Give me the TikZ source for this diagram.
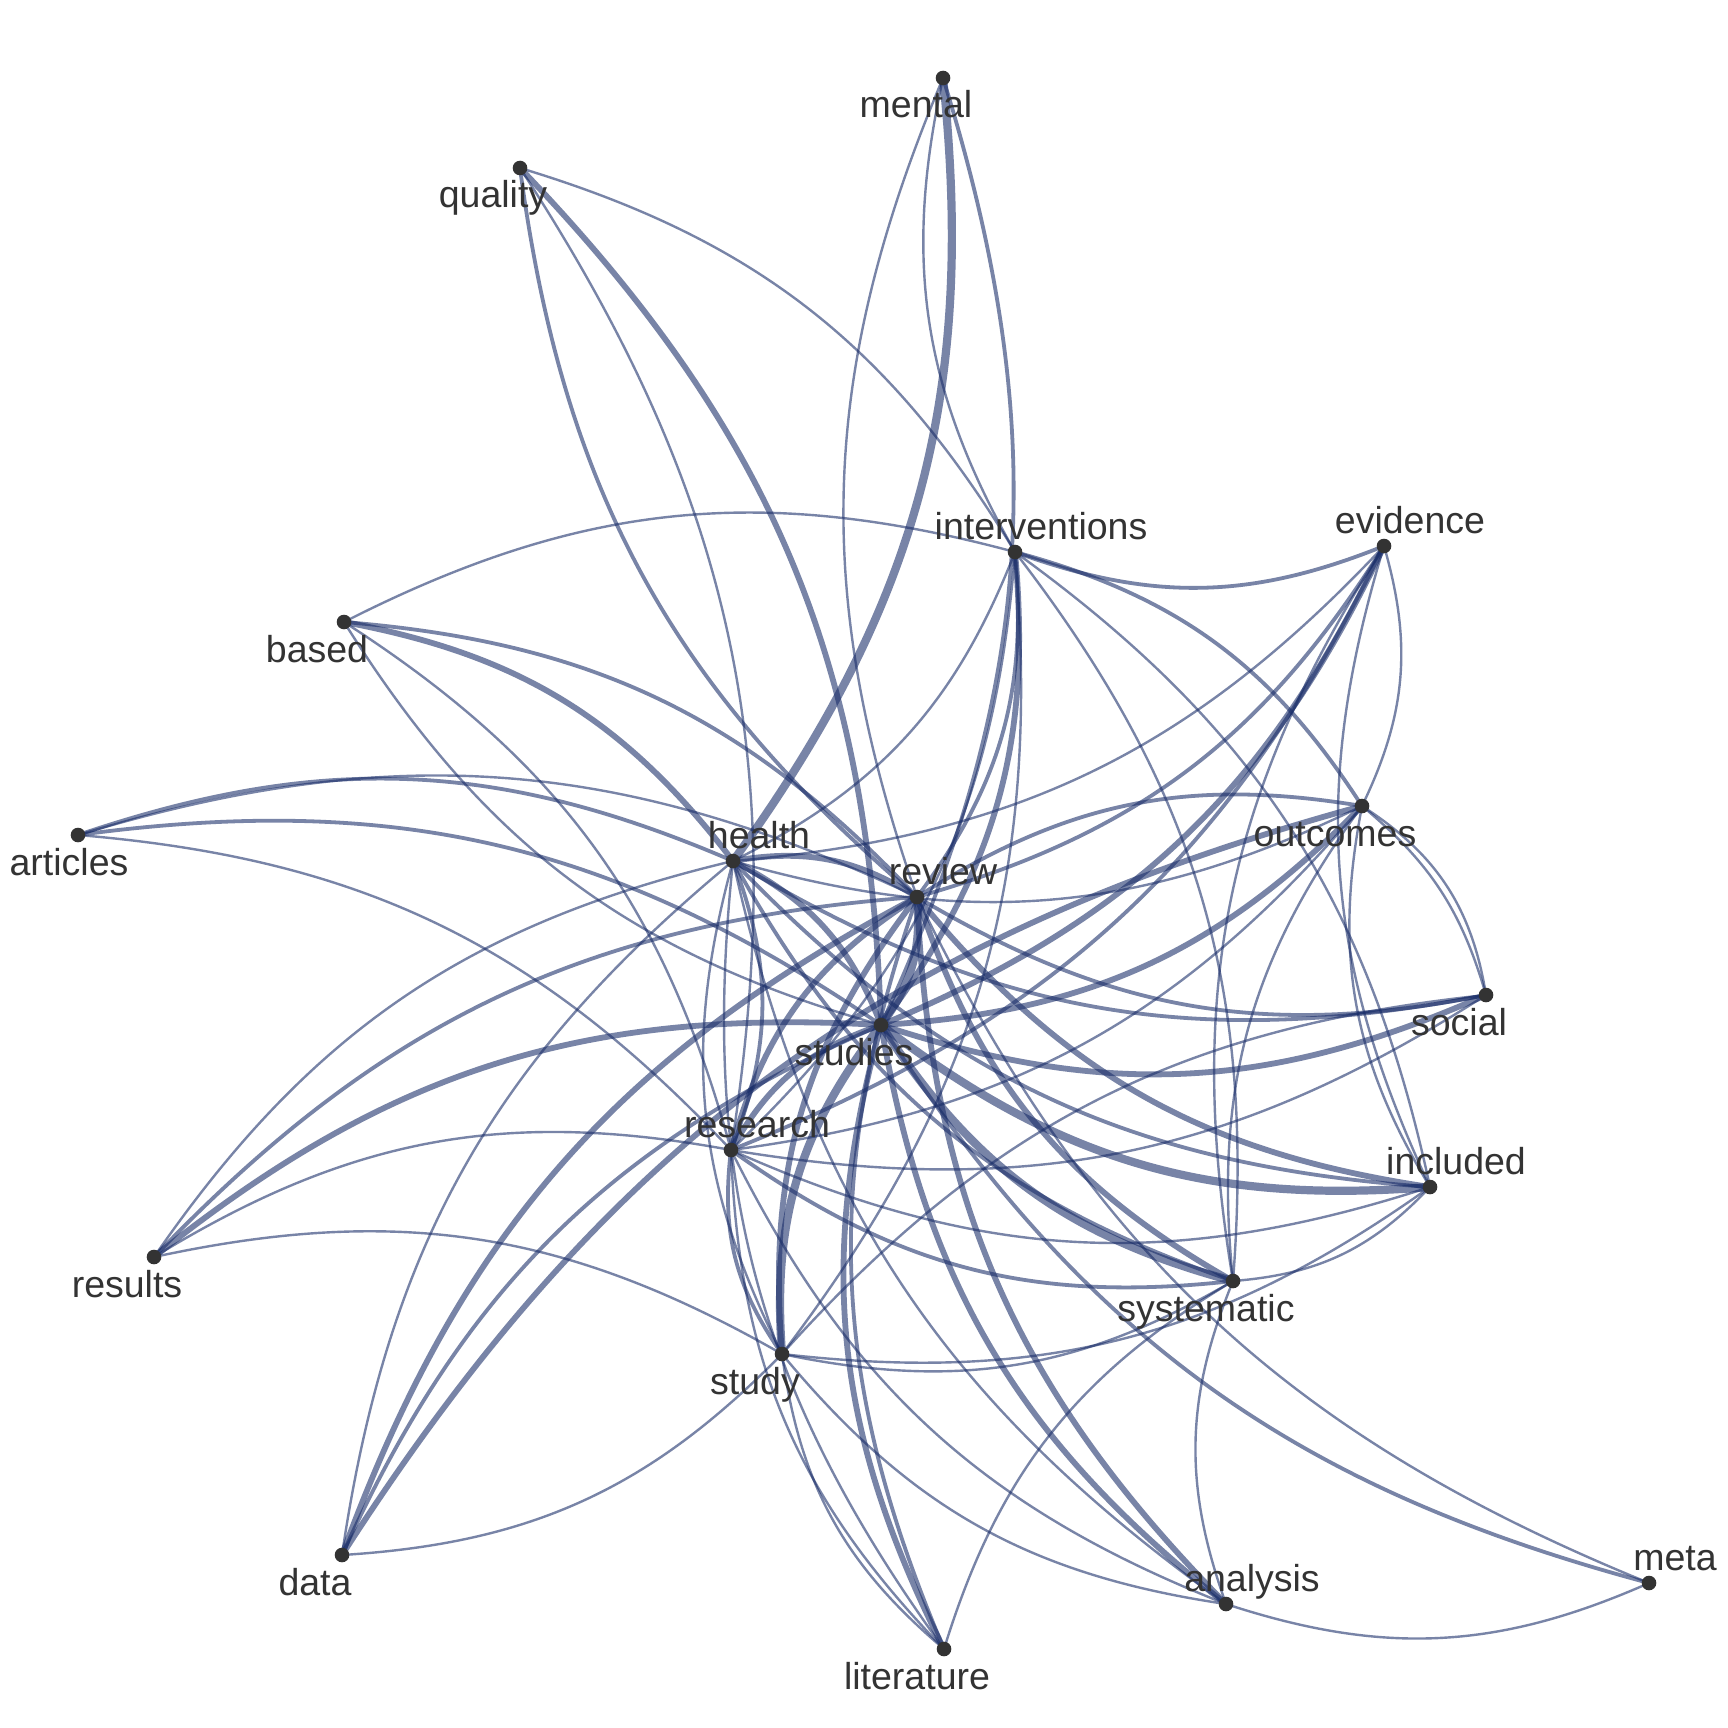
\documentclass[tikz,border=0pt]{standalone}
\usepackage{fontspec}
\setmainfont{Liberation Sans}
\definecolor{edgec}{RGB}{24,44,104}
\definecolor{dotc}{RGB}{51,51,51}
\newcommand\ed[3]{\draw[#3] (#1) to[bend left=21] (#2);}
\begin{document}
\begin{tikzpicture}[x=1pt,y=1pt,
  edgebase/.style={draw=edgec, draw opacity=0.58, line cap=round},
  ewa/.style={edgebase, line width=2.4pt},
  ewb/.style={edgebase, line width=3.8pt},
  ewc/.style={edgebase, line width=5.8pt},
  ewd/.style={edgebase, line width=8.2pt},
  dot/.style={circle, fill=dotc, inner sep=0pt, minimum size=14.6pt},
  lab/.style={text=dotc, font=\fontsize{37.5}{40}\selectfont, inner sep=0pt, anchor=base}]
\fill[white] (0,0) rectangle (1728,-1728);
\useasboundingbox (0,0) rectangle (1728,-1728);
% node positions
\coordinate (mental) at (943,-78);
\coordinate (quality) at (520,-168);
\coordinate (interventions) at (1015,-552);
\coordinate (evidence) at (1384,-546);
\coordinate (based) at (344,-622);
\coordinate (articles) at (78,-835);
\coordinate (health) at (733,-861);
\coordinate (review) at (917,-897);
\coordinate (outcomes) at (1362,-806);
\coordinate (social) at (1486,-995);
\coordinate (studies) at (881,-1025);
\coordinate (research) at (731,-1150);
\coordinate (included) at (1430,-1187);
\coordinate (systematic) at (1233,-1281);
\coordinate (analysis) at (1226,-1604);
\coordinate (meta) at (1649,-1583);
\coordinate (results) at (154,-1257);
\coordinate (data) at (342,-1555);
\coordinate (study) at (782,-1354);
\coordinate (literature) at (944,-1649);
% edges
\ed{mental}{health}{ewd}
\ed{interventions}{mental}{ewa}
\ed{review}{mental}{ewa}
\ed{mental}{studies}{ewb}
\ed{quality}{interventions}{ewa}
\ed{quality}{studies}{ewc}
\ed{quality}{research}{ewa}
\ed{review}{quality}{ewb}
\ed{based}{interventions}{ewa}
\ed{based}{review}{ewb}
\ed{based}{health}{ewc}
\ed{studies}{based}{ewa}
\ed{based}{research}{ewa}
\ed{articles}{health}{ewb}
\ed{articles}{review}{ewa}
\ed{articles}{studies}{ewb}
\ed{articles}{research}{ewa}
\ed{results}{health}{ewa}
\ed{results}{review}{ewb}
\ed{results}{studies}{ewc}
\ed{results}{research}{ewa}
\ed{results}{study}{ewa}
\ed{data}{health}{ewa}
\ed{data}{review}{ewc}
\ed{data}{outcomes}{ewc}
\ed{data}{studies}{ewb}
\ed{study}{data}{ewa}
\ed{literature}{studies}{ewc}
\ed{literature}{review}{ewb}
\ed{literature}{research}{ewa}
\ed{literature}{study}{ewa}
\ed{literature}{health}{ewa}
\ed{literature}{systematic}{ewa}
\ed{analysis}{studies}{ewc}
\ed{analysis}{review}{ewc}
\ed{analysis}{health}{ewa}
\ed{analysis}{research}{ewa}
\ed{analysis}{study}{ewa}
\ed{analysis}{systematic}{ewa}
\ed{meta}{analysis}{ewa}
\ed{meta}{studies}{ewb}
\ed{meta}{review}{ewa}
\ed{evidence}{interventions}{ewb}
\ed{evidence}{studies}{ewc}
\ed{evidence}{review}{ewb}
\ed{evidence}{research}{ewb}
\ed{evidence}{health}{ewa}
\ed{evidence}{outcomes}{ewa}
\ed{systematic}{evidence}{ewa}
\ed{included}{evidence}{ewa}
\ed{interventions}{studies}{ewc}
\ed{interventions}{review}{ewb}
\ed{interventions}{health}{ewa}
\ed{interventions}{research}{ewa}
\ed{interventions}{study}{ewa}
\ed{interventions}{outcomes}{ewb}
\ed{interventions}{systematic}{ewa}
\ed{interventions}{included}{ewa}
\ed{outcomes}{studies}{ewc}
\ed{review}{outcomes}{ewb}
\ed{outcomes}{health}{ewa}
\ed{outcomes}{research}{ewa}
\ed{systematic}{outcomes}{ewa}
\ed{included}{outcomes}{ewa}
\draw[ewa] (outcomes) to[bend left=17] (social);
\draw[ewa] (outcomes) to[bend left=24] (social);
\ed{social}{review}{ewb}
\ed{social}{health}{ewb}
\ed{social}{studies}{ewc}
\ed{social}{research}{ewa}
\ed{study}{social}{ewa}
\ed{included}{studies}{ewd}
\ed{included}{review}{ewc}
\ed{included}{health}{ewb}
\ed{included}{research}{ewa}
\ed{included}{study}{ewa}
\ed{included}{systematic}{ewa}
\ed{systematic}{studies}{ewd}
\ed{systematic}{review}{ewc}
\ed{systematic}{health}{ewb}
\ed{systematic}{research}{ewb}
\ed{systematic}{study}{ewa}
\ed{study}{studies}{ewd}
\ed{study}{review}{ewc}
\ed{study}{research}{ewb}
\ed{study}{health}{ewa}
\ed{research}{studies}{ewc}
\ed{research}{review}{ewc}
\ed{health}{research}{ewb}
\ed{health}{studies}{ewc}
\ed{health}{review}{ewc}
\ed{review}{studies}{ewd}
% dots
\foreach \n in {mental,quality,interventions,evidence,based,articles,health,review,outcomes,social,studies,research,included,systematic,analysis,meta,results,data,study,literature}
  \node[dot] (\n-dot) at (\n) {};
% labels
\node[lab] (mental-l) at (916,-118) {mental};
\node[lab] (quality-l) at (493,-208) {quality};
\node[lab] (interventions-l) at (1041,-539) {interventions};
\node[lab] (evidence-l) at (1410,-533) {evidence};
\node[lab] (based-l) at (317,-662) {based};
\node[lab] (articles-l) at (69,-875) {articles};
\node[lab] (health-l) at (759,-848) {health};
\node[lab] (review-l) at (943,-884) {review};
\node[lab] (outcomes-l) at (1335,-846) {outcomes};
\node[lab] (social-l) at (1459,-1035) {social};
\node[lab] (studies-l) at (854,-1065) {studies};
\node[lab] (research-l) at (757,-1137) {research};
\node[lab] (included-l) at (1456,-1174) {included};
\node[lab] (systematic-l) at (1206,-1321) {systematic};
\node[lab] (analysis-l) at (1252,-1591) {analysis};
\node[lab] (meta-l) at (1675,-1570) {meta};
\node[lab] (results-l) at (127,-1297) {results};
\node[lab] (data-l) at (315,-1595) {data};
\node[lab] (study-l) at (755,-1394) {study};
\node[lab] (literature-l) at (917,-1689) {literature};
\end{tikzpicture}
\end{document}
